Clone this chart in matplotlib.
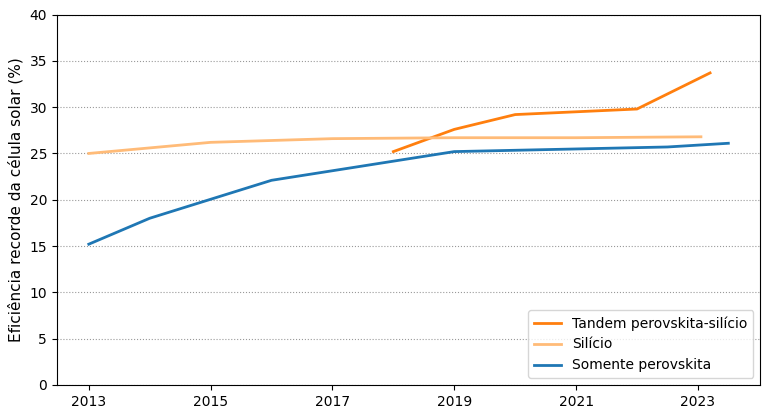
import matplotlib
matplotlib.use("Agg")
import matplotlib.pyplot as plt

tandem_years = [2018.0, 2019.0, 2020.0, 2022.0, 2023.2]
tandem_vals = [25.2, 27.6, 29.2, 29.8, 33.7]

si_years = [2013, 2015, 2017, 2019, 2021, 2023.05]
si_vals = [25.0, 26.2, 26.6, 26.7, 26.7, 26.8]

pero_years = [2013, 2014, 2016, 2019, 2022.5, 2023.5]
pero_vals = [15.2, 18.0, 22.1, 25.2, 25.7, 26.1]

xticks = [2013, 2015, 2017, 2019, 2021, 2023]

fig, ax = plt.subplots(figsize=(7.68, 4.17), dpi=100)
fig.subplots_adjust(left=0.074, right=0.99, top=0.965, bottom=0.077)

ax.plot(tandem_years, tandem_vals, color="#ff7f0e", lw=2, label="Tandem perovskita-silício")
ax.plot(si_years, si_vals, color="#ffbb78", lw=2, label="Silício")
ax.plot(pero_years, pero_vals, color="#1f77b4", lw=2, label="Somente perovskita")

ax.set_ylim(0, 40)
ax.set_xticks(xticks)
ax.set_xticklabels([str(x) for x in xticks])
ax.set_ylabel("Eficiência recorde da célula solar (%)", fontsize=11)
ax.yaxis.grid(True, linestyle=":", color="gray", alpha=0.8)
ax.set_axisbelow(True)
ax.legend(loc="lower right", fontsize=10)

fig.savefig("out.png", dpi=100)
